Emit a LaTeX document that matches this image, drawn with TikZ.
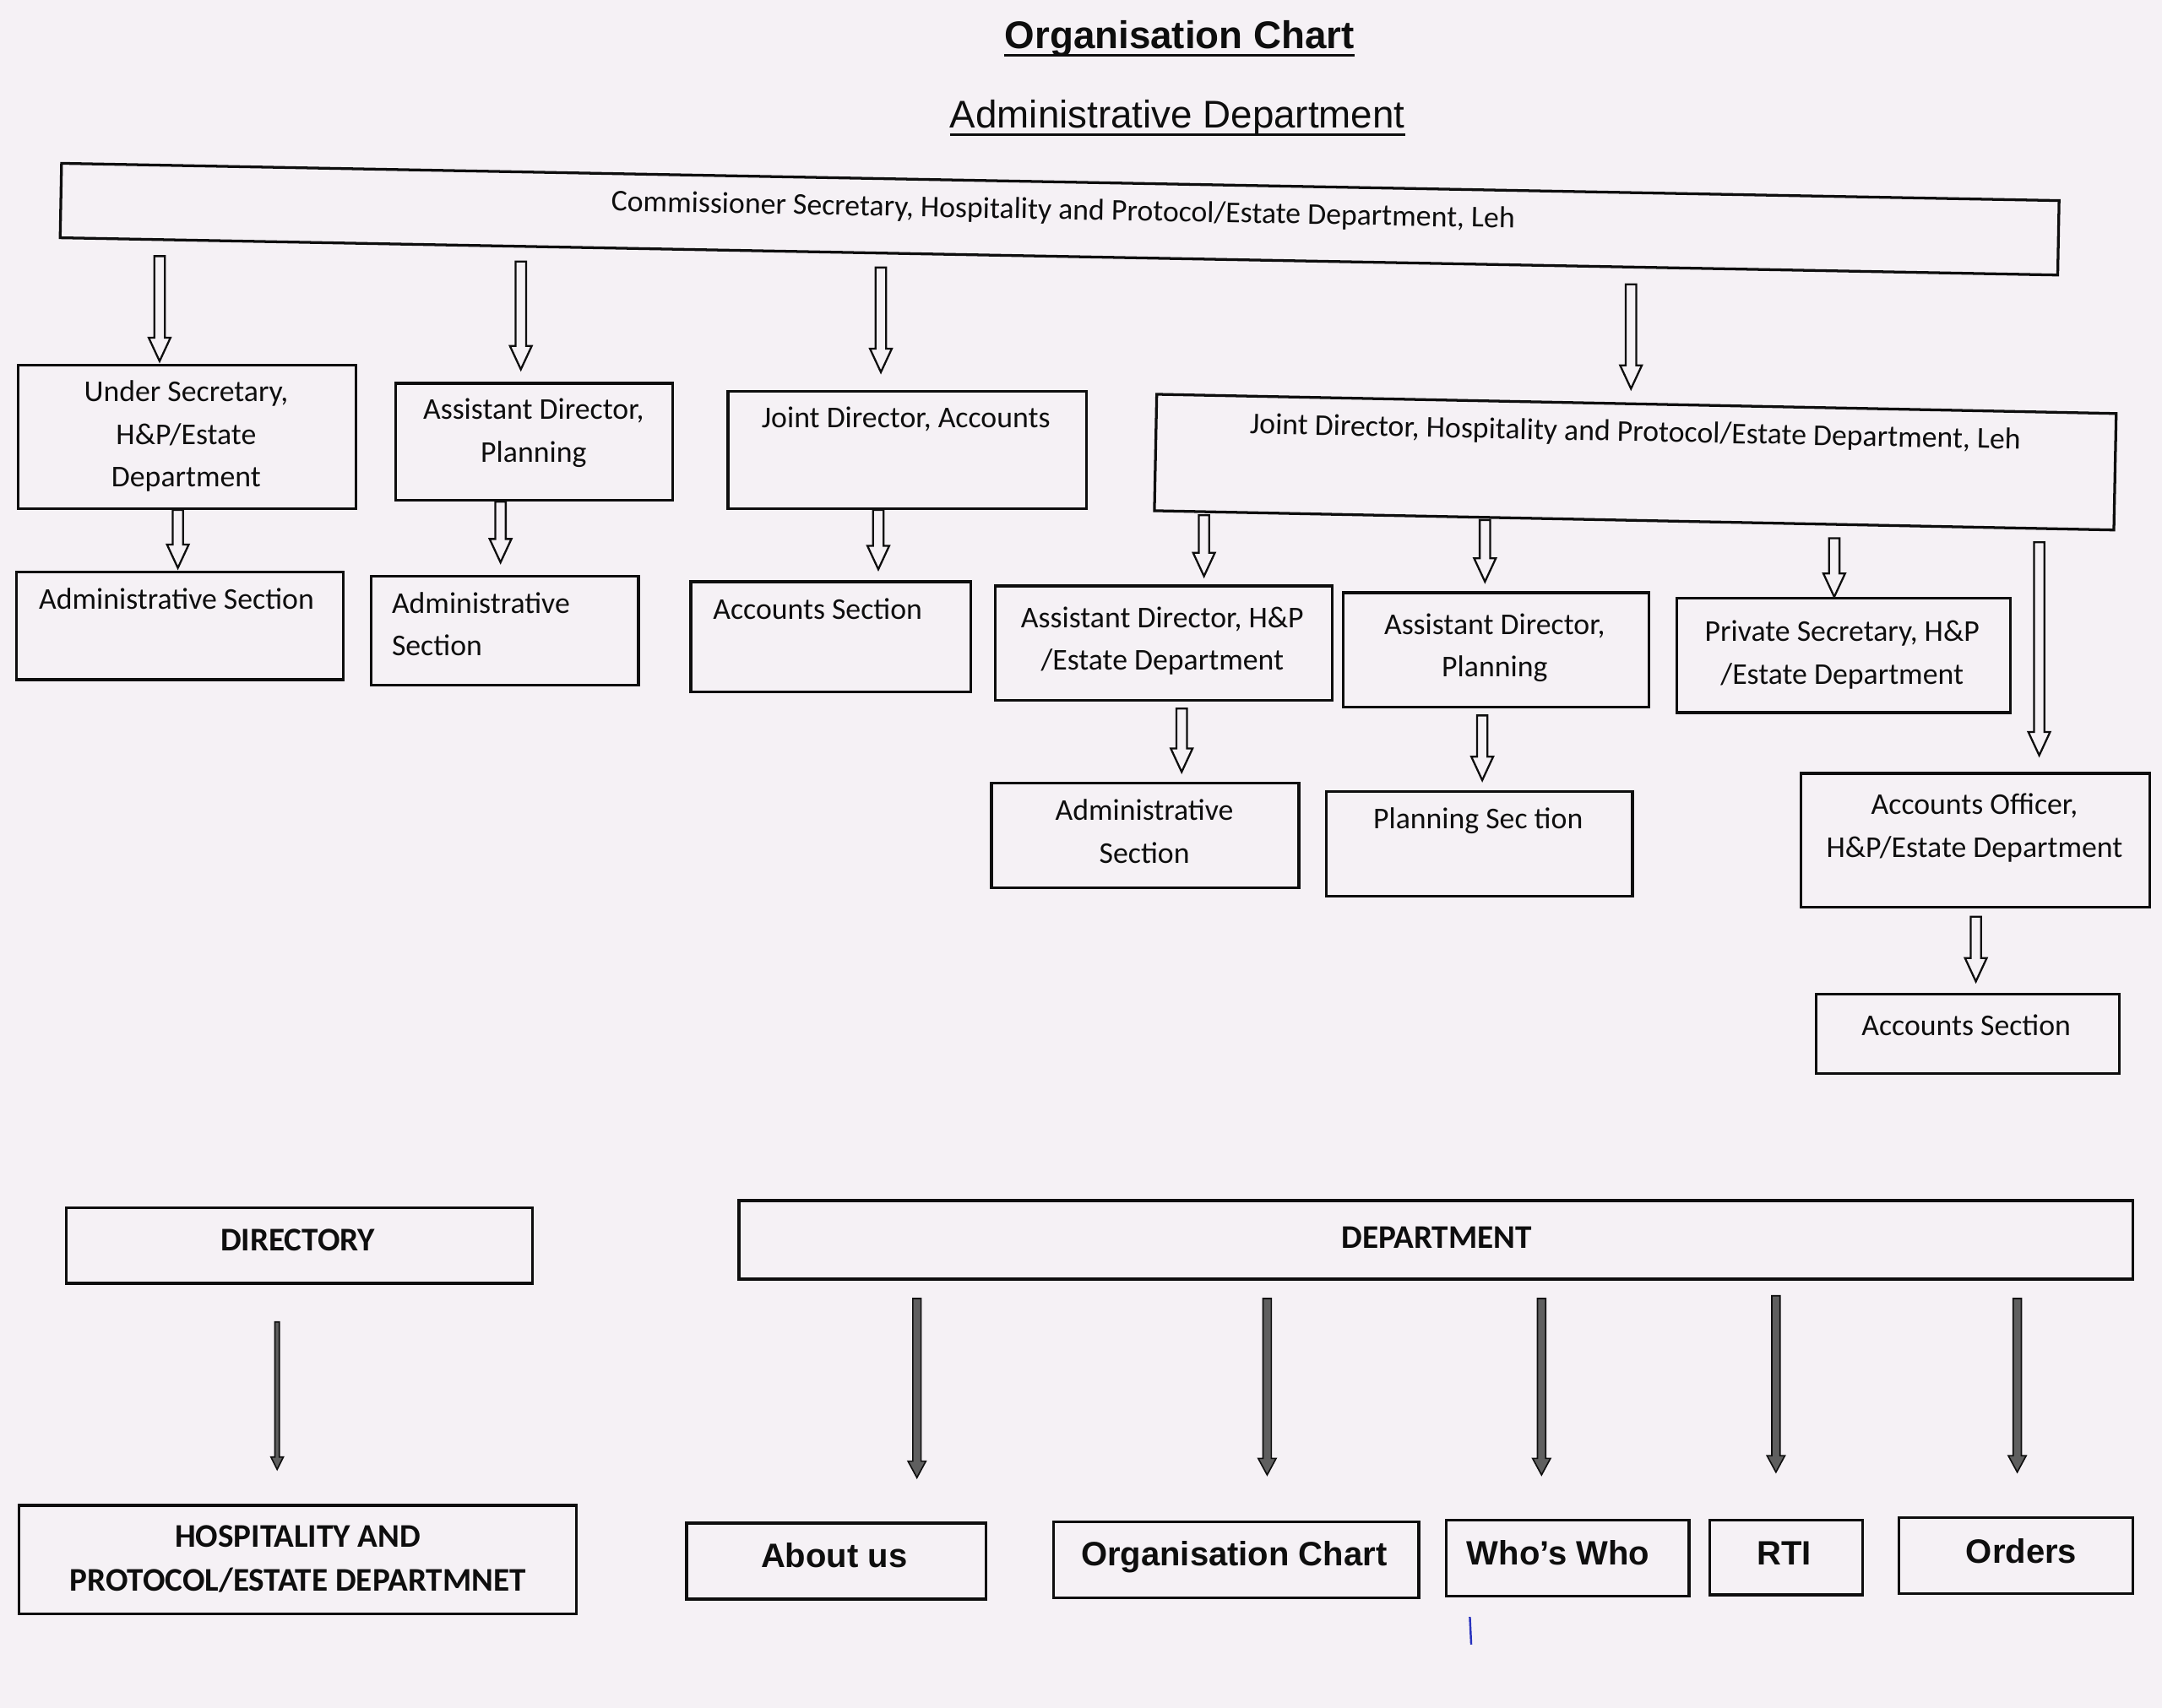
\documentclass[tikz,border=0pt]{standalone}
\usepackage{fontspec}
\usetikzlibrary{calc}
\newfontfamily\calfont{Carlito}
\newfontfamily\arifont{Liberation Sans}
\definecolor{paper}{RGB}{245,241,245}
\definecolor{ink}{RGB}{14,14,14}
\definecolor{shaftgray}{RGB}{95,95,95}
\definecolor{penblue}{RGB}{40,50,190}

% hollow block arrow: x and start y from #1, tip y from #2
\newcommand{\hollowarrow}[2]{%
  \draw[harrow] let \p1=(#1), \p2=(#2) in
    (\x1-3.8pt,\y1) -- (\x1+3.8pt,\y1) -- (\x1+3.8pt,\y2+17pt) -- (\x1+7.9pt,\y2+17pt)
    -- (\x1,\y2) -- (\x1-7.9pt,\y2+17pt) -- (\x1-3.8pt,\y2+17pt) -- cycle;}
% filled dark arrow: start, end, shaft half width, head half width, head length
\newcommand{\darkarrow}[5]{%
  \draw[darrow] let \p1=(#1), \p2=(#2) in
    (\x1-#3,\y1) -- (\x1+#3,\y1) -- (\x1+#3,\y2+#5) -- (\x1+#4,\y2+#5)
    -- (\x1,\y2) -- (\x1-#4,\y2+#5) -- (\x1-#3,\y2+#5) -- cycle;}
% axis-aligned box: name, x1, y1, x2, y2
\newcommand{\bx}[5]{%
  \node[box, anchor=north west, minimum width={(#4-#2)*1pt}, minimum height={(#5-#3)*1pt}] (#1) at (#2,#3) {};}

\begin{document}
\begin{tikzpicture}[x=1pt,y=-1pt,
  box/.style={draw=ink, line width=2pt, rectangle, inner sep=0pt},
  txt/.style={font=\calfont\fontsize{21.9}{31}\selectfont, align=center, inner sep=0pt, text=ink},
  btxt/.style={font=\calfont\bfseries\fontsize{24}{32}\selectfont, align=center, inner sep=0pt, text=ink},
  atxt/.style={font=\arifont\bfseries\fontsize{24.5}{30}\selectfont, inner sep=0pt, text=ink},
  harrow/.style={draw=ink, line width=1.4pt, fill=paper, line join=miter},
  darrow/.style={draw=ink, line width=1pt, fill=shaftgray, line join=miter},
  uline/.style={draw=ink, line width=2pt}]
\fill[paper] (0,0) rectangle (1568,1239);
\useasboundingbox (0,0) rectangle (1568,1239);

% titles
\node[font=\arifont\bfseries\fontsize{28}{34}\selectfont, inner sep=0pt, anchor=base, text=ink] (title) at (855.5,35) {Organisation Chart};
\draw[uline] ([yshift=-5pt]title.base west) -- ([yshift=-5pt]title.base east);
\node[font=\arifont\fontsize{28}{34}\selectfont, inner sep=0pt, anchor=base, text=ink] (subtitle) at (854,93) {Administrative Department};
\draw[uline] ([yshift=-4.5pt]subtitle.base west) -- ([yshift=-4.5pt]subtitle.base east);

% top box
\node[box, rotate=-1.07, minimum width=1449pt, minimum height=54pt] (top) at (768.5,159) {};
\node[txt, rotate=-1.07] (top-t) at (771,153) {\strut Commissioner Secretary, Hospitality and Protocol/Estate Department, Leh};

% first row
\bx{us}{12}{264}{257}{368}
\node[txt] (us-t) at (135,316) {\strut Under Secretary,\\\strut H\&P/Estate\\\strut Department};
\bx{adp}{286}{277}{487}{362}
\node[txt] (adp-t) at (387,313.5) {\strut Assistant Director,\\\strut Planning};
\bx{jda}{527}{283}{787}{368}
\node[txt] (jda-t) at (657,304) {\strut Joint Director, Accounts};
\node[box, rotate=-1.15, minimum width=696pt, minimum height=84.5pt] (jdh) at (1186,335.25) {};
\node[txt, rotate=-1.15] (jdh-t) at (1186,314) {\strut Joint Director, Hospitality and Protocol/Estate Department, Leh};

% second row
\bx{as1}{11}{414}{248}{492}
\node[txt] (as1-t) at (128,436) {\strut Administrative Section};
\bx{as2}{268}{417}{462}{496}
\node[txt, align=left, anchor=west] (as2-t) at (284,454) {\strut Administrative\\\strut Section};
\bx{accs}{500}{421}{703}{501}
\node[txt] (accs-t) at (593,443) {\strut Accounts Section};
\bx{adhp}{721}{424}{965}{507}
\node[txt] (adhp-t) at (843,464.5) {\strut Assistant Director, H\&P\\\strut /Estate Department};
\bx{adp2}{973}{429}{1195}{512}
\node[txt] (adp2-t) at (1084,469.5) {\strut Assistant Director,\\\strut Planning};
\bx{ps}{1215}{433}{1457}{516}
\node[txt] (ps-t) at (1336,474.5) {\strut Private Secretary, H\&P\\\strut /Estate Department};

% third row
\bx{adms3}{718}{567}{941}{643}
\node[txt] (adms3-t) at (830,604.5) {\strut Administrative\\\strut Section};
\bx{plans}{961}{573}{1183}{649}
\node[txt] (plans-t) at (1072,595) {\strut Planning Sec tion};
\bx{ao}{1305}{560}{1558}{657}
\node[txt] (ao-t) at (1432,600) {\strut Accounts Officer,\\\strut H\&P/Estate Department};
\bx{accs2}{1316}{720}{1536}{778}
\node[txt] (accs2-t) at (1426,745) {\strut Accounts Section};

% hollow arrows
\hollowarrow{$(top.south west)!0.0504!(top.south east)+(0,11)$}{$(us.north)+(0,-2)$}
\hollowarrow{$(top.south west)!0.231!(top.south east)+(0,10)$}{$(adp.north)+(0,-9)$}
\hollowarrow{$(top.south west)!0.411!(top.south east)+(0,9.5)$}{$(jda.north)+(0,-13)$}
\hollowarrow{$(top.south west)!0.786!(top.south east)+(0,11.5)$}{$(jdh.north)+(0,-10)$}
\hollowarrow{$(129,0 |- us.south)$}{$(as1.north)+(0,-2)$}
\hollowarrow{$(363,0 |- adp.south)$}{$(as2.north)+(0,-9)$}
\hollowarrow{$(637,0 |- jda.south)$}{$(accs.north)+(0,-8)$}
\hollowarrow{$(jdh.south west)!0.053!(jdh.south east)+(0,1.5)$}{$(adhp.north)+(0,-6)$}
\hollowarrow{$(jdh.south west)!0.345!(jdh.south east)+(0,1)$}{$(adp2.north)+(0,-7)$}
\hollowarrow{$(jdh.south west)!0.708!(jdh.south east)+(0,9)$}{$(ps.north)+(0,0)$}
\hollowarrow{$(jdh.south west)!0.921!(jdh.south east)+(0,9)$}{$(ao.north)+(0,-12)$}
\hollowarrow{$(857,0 |- adhp.south)+(0,5)$}{$(adms3.north)+(0,-7)$}
\hollowarrow{$(1075,0 |- adp2.south)+(0,5)$}{$(plans.north)+(0,-7)$}
\hollowarrow{$(1433,0 |- ao.south)+(0,6)$}{$(accs2.north)+(0,-8)$}

% bottom section
\bx{dir}{47}{875}{385}{930}
\node[btxt] (dir-t) at (216,901) {\strut DIRECTORY};
\bx{dept}{535}{870}{1546}{927}
\node[btxt] (dept-t) at (1042,899) {\strut DEPARTMENT};
\bx{hosp}{13}{1091}{417}{1170}
\node[btxt] (hosp-t) at (216,1132) {\strut HOSPITALITY AND\\\strut PROTOCOL/ESTATE DEPARTMNET};
\bx{about}{497}{1104}{714}{1159}
\node[atxt] (about-t) at (605,1131) {\strut About us};
\bx{orgc}{763}{1103}{1028}{1158}
\node[atxt] (orgc-t) at (895,1130) {\strut Organisation Chart};
\bx{who}{1048}{1102}{1224}{1157}
\node[atxt] (who-t) at (1130,1129) {\strut Who’s Who};
\bx{rti}{1239}{1102}{1350}{1156}
\node[atxt] (rti-t) at (1294,1129) {\strut RTI};
\bx{orders}{1376}{1100}{1546}{1155}
\node[atxt] (orders-t) at (1466,1128) {\strut Orders};

\darkarrow{$(201,0 |- dir.south)+(0,27)$}{$(hosp.north)+(0,-25)$}{1.6pt}{4.5pt}{9pt}
\darkarrow{$(665,0 |- dept.south)+(0,13)$}{$(about.north)+(0,-32)$}{3pt}{6.5pt}{12pt}
\darkarrow{$(919,0 |- dept.south)+(0,13)$}{$(orgc.north)+(0,-33)$}{3pt}{6.5pt}{12pt}
\darkarrow{$(1118,0 |- dept.south)+(0,13)$}{$(who.north)+(0,-32)$}{3pt}{6.5pt}{12pt}
\darkarrow{$(1288,0 |- dept.south)+(0,11)$}{$(rti.north)+(0,-34)$}{3pt}{6.5pt}{12pt}
\darkarrow{$(1463,0 |- dept.south)+(0,13)$}{$(orders.north)+(0,-32)$}{3pt}{6.5pt}{12pt}

% stray pen mark
\coordinate (pen1) at (1066,1173);
\coordinate (pen2) at (1067,1193);
\draw[penblue, line width=1.5pt] (pen1) -- (pen2);
\end{tikzpicture}
\end{document}
